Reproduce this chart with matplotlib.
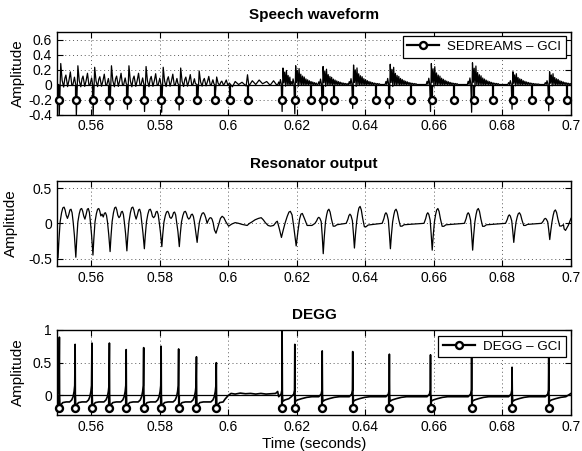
import numpy as np
import matplotlib
matplotlib.use("Agg")
import matplotlib.pyplot as plt
from matplotlib.lines import Line2D
from matplotlib.legend_handler import HandlerLine2D

plt.rcParams['font.family'] = ['Liberation Sans', 'DejaVu Sans']

# ---------------------------------------------------------------- GCI instants (s)
sedreams_gci = [0.5505, 0.5555, 0.5604, 0.5653, 0.5704, 0.5754, 0.5804, 0.5855, 0.5909, 0.5960,
                0.6006, 0.6056, 0.6157, 0.6194, 0.6242, 0.6276, 0.6307, 0.6363, 0.6431, 0.6470,
                0.6534, 0.6595, 0.6658, 0.6716, 0.6773, 0.6830, 0.6886, 0.6936, 0.6989]
degg_gci = [0.5507, 0.5553, 0.5602, 0.5653, 0.5702, 0.5753, 0.5804, 0.5855, 0.5907, 0.5965,
            0.6157, 0.6194, 0.6274, 0.6363, 0.6470, 0.6590, 0.6710, 0.6828, 0.6935]
degg_peak = [0.89, 0.78, 0.80, 0.80, 0.70, 0.73, 0.75, 0.71, 0.59, 0.50,
             1.00, 0.78, 0.68, 0.67, 0.63, 0.62, 0.59, 0.43, 0.59]

# ---------------------------------------------------------------- speech waveform
# first voiced stretch: one excitation per period
sp1_times = sedreams_gci[:10]
sp1_pos = [0.28, 0.25, 0.23, 0.25, 0.25, 0.24, 0.23, 0.22, 0.18, 0.10]
sp1_neg = [-0.45, -0.42, -0.42, -0.34, -0.33, -0.36, -0.37, -0.34, -0.26, -0.15]
sp1_shape_ms = [0.0, 0.15, 0.6, 1.0, 1.45, 1.8, 2.1, 2.6, 3.0, 3.4, 3.8, 4.1, 4.6, 4.9]
sp1_shape_val = [0.0, None, 1.0, 0.2, -0.12, 0.3, 0.45, -0.1, 0.2, 0.6, 0.0, -0.05, 0.35, 0.05]

# low-level stretch between the two voiced parts
sp_uv_t = [0.6003, 0.6012, 0.6020, 0.6030, 0.6040, 0.6052, 0.6056, 0.6060, 0.6070, 0.6080,
           0.6090, 0.6100, 0.6112, 0.6122, 0.6132, 0.6140]
sp_uv_v = [0.02, -0.03, 0.04, 0.0, 0.03, -0.02, 0.13, -0.02, 0.05, 0.0,
           0.06, 0.01, 0.04, -0.01, 0.05, 0.0]

# second voiced stretch: bursts with a ringing tail
sp2_times = degg_gci[10:]
sp2_pos = [0.22, 0.25, 0.24, 0.26, 0.27, 0.28, 0.29, 0.17, 0.17]
sp2_neg = [-0.36, -0.39, -0.35, -0.32, -0.32, -0.36, -0.37, -0.33, -0.35]
sp2_pre = [0.0, 0.15, 0.0, 0.3, 0.05]
sp2_ring = [None, 1.0, 0.1, 0.75, -0.1, 0.85, 0.0, 0.55, -0.05, 0.45, 0.0, 0.4, -0.05, 0.3,
            0.0, 0.25, -0.03, 0.2, 0.0, 0.16, -0.02, 0.13, 0.0, 0.1, -0.02, 0.08, 0.0, 0.06,
            -0.01, 0.05, 0.0, 0.04, 0.0]
SP2_STEP_MS = 0.25

# ---------------------------------------------------------------- resonator output
# first voiced stretch: per-period dip, first hump, middle valley, second hump
res1_times = [0.5503, 0.5555, 0.5605, 0.5655, 0.5704, 0.5755, 0.5806, 0.5857, 0.5909, 0.5964]
res1_dip = [-0.49, -0.48, -0.45, -0.40, -0.39, -0.36, -0.33, -0.33, -0.27]
res1_p1 = [0.23, 0.21, 0.21, 0.23, 0.23, 0.20, 0.17, 0.17, 0.15]
res1_md = [0.07, 0.06, 0.13, 0.08, 0.06, 0.08, 0.07, 0.06, 0.0]
res1_p2 = [0.20, 0.21, 0.15, 0.17, 0.20, 0.17, 0.16, 0.13, 0.08]
res1_shape = [(0.00, 'dip', 1.0), (0.05, 'dip', 0.5), (0.12, 'p1', 0.1), (0.20, 'p1', 0.65),
              (0.27, 'p1', 0.95), (0.34, 'p1', 1.0), (0.40, 'p1', 0.82), (0.46, 'p1', 0.5),
              (0.53, 'md', 1.0), (0.60, 'p2', 0.6), (0.67, 'p2', 0.95), (0.73, 'p2', 1.0),
              (0.79, 'p2', 0.75), (0.85, 'p2', 0.1), (0.92, 'dip', 0.35)]

# stretch between the voiced parts and the first irregular periods
res2_t = [0.5964, 0.5971, 0.5977, 0.5982, 0.5987, 0.5993, 0.6001, 0.6010, 0.6020, 0.6030,
          0.6040, 0.6055, 0.6062, 0.6069, 0.6078, 0.6088, 0.6096, 0.6102, 0.6108, 0.6116,
          0.6123, 0.6132, 0.6140, 0.6143, 0.6149, 0.6155, 0.6160, 0.6166, 0.6172, 0.6177,
          0.6181, 0.6186, 0.6191, 0.6198, 0.6203, 0.6208, 0.6212, 0.6216, 0.6222, 0.6230,
          0.6244, 0.6250]
res2_v = [-0.14, -0.03, 0.07, 0.10, 0.08, 0.02, -0.04, -0.01, 0.01, 0.0,
          -0.015, -0.03, 0.0, 0.02, 0.05, 0.07, 0.08, 0.05, 0.01, -0.03,
          -0.04, -0.03, 0.02, 0.03, -0.08, -0.20, -0.10, 0.01, 0.10, 0.16,
          0.17, 0.12, -0.05, -0.32, -0.12, 0.06, 0.13, 0.14, 0.07, -0.03,
          -0.03, -0.01]

# second voiced stretch: isolated events (pre-hump, dip, main hump)
res3_times = [0.6277, 0.6368, 0.6473, 0.6595, 0.6713, 0.6833, 0.6938]
res3_dip = [-0.43, -0.35, -0.36, -0.38, -0.38, -0.27, -0.23]
res3_peak = [0.20, 0.24, 0.20, 0.21, 0.21, 0.15, 0.19]
res3_pre = [0.085, 0.13, 0.15, 0.15, 0.15, 0.12, 0.07]
res3_shape = [(-2.4, 'Q', 0.0), (-1.9, 'Q', 0.45), (-1.6, 'Q', 0.85), (-1.3, 'Q', 1.0),
              (-1.0, 'Q', 0.85), (-0.6, 'Q', 0.3), (-0.3, 'D', 0.4), (0.0, 'D', 1.0),
              (0.3, 'D', 0.45), (0.65, 'P', 0.1), (1.0, 'P', 0.6), (1.3, 'P', 0.9),
              (1.65, 'P', 1.0), (2.0, 'P', 0.8), (2.4, 'P', 0.3), (2.9, 'P', -0.2),
              (3.4, 'P', -0.2), (4.0, 'P', -0.1)]
res_end_t = [0.6980, 0.6984, 0.6992, 0.7000]
res_end_v = [-0.08, -0.10, -0.03, 0.07]

# ---------------------------------------------------------------- DEGG
dg1_shape_ms = [-1.6, -1.0, -0.6, -0.3, -0.12, 0.0, 0.06, 0.15, 0.5, 1.0, 2.0, 3.0]
dg1_shape_val = [-0.10, -0.07, -0.02, 0.06, 0.15, None, 0.0, -0.17, -0.14, -0.11, -0.10, -0.10]
dg_uv_t = [0.5990, 0.6000, 0.6008, 0.6020, 0.6035, 0.6050, 0.6065, 0.6080, 0.6095, 0.6110,
           0.6125, 0.6138, 0.6144]
dg_uv_v = [-0.06, 0.0, 0.03, 0.02, 0.035, 0.025, 0.03, 0.02, 0.03, 0.02, 0.025, 0.03, 0.06]
dg2_shape_ms = [-1.0, -0.3, -0.08, 0.0, 0.08, 0.2, 0.8, 2.0, 3.5, 5.0]
dg2_shape_val = [-0.02, 0.02, 0.08, None, 0.0, -0.09, -0.07, -0.05, -0.03, -0.02]
dg_end_t = [0.7000]
dg_end_v = [0.03]

# ---------------------------------------------------------------- axis text
x_ticks = [0.56, 0.58, 0.60, 0.62, 0.64, 0.66, 0.68, 0.70]
x_ticklabels = ['0.56', '0.58', '0.6', '0.62', '0.64', '0.66', '0.68', '0.7']
titles = ['Speech waveform', 'Resonator output', 'DEGG']


def place_cycles(times, shape_ms, shape_val, special, scale, stop_last):
    """Lay a per-period shape at each instant, cut where the next one starts."""
    ts, vs = [], []
    starts = [t + shape_ms[0] * 1e-3 for t in times]
    for i, t0 in enumerate(times):
        stop = starts[i + 1] if i + 1 < len(times) else stop_last
        for dt, v in zip(shape_ms, shape_val):
            t = t0 + dt * 1e-3
            if t >= stop:
                break
            ts.append(t)
            if v is None:
                vs.append(special[i])
            else:
                vs.append(v * scale[i] if scale is not None else v)
    return ts, vs


def place_events(times, shape, levels, stop_last):
    """Shape entries are (offset ms, level key, factor); levels maps key -> per-event list."""
    ts, vs = [], []
    starts = [t + shape[0][0] * 1e-3 for t in times]
    for i, t0 in enumerate(times):
        stop = starts[i + 1] if i + 1 < len(times) else stop_last
        for dt, key, fac in shape:
            t = t0 + dt * 1e-3
            if t >= stop:
                break
            ts.append(t)
            vs.append(fac * levels[key][i])
    return ts, vs


# speech
s1_t, s1_v = place_cycles(sp1_times, sp1_shape_ms, sp1_shape_val, sp1_neg, sp1_pos, sp_uv_t[0])
sp2_ms = [(-len(sp2_pre) + k) * SP2_STEP_MS for k in range(len(sp2_pre) + len(sp2_ring))]
s2_t, s2_v = place_cycles(sp2_times, sp2_ms, sp2_pre + sp2_ring, sp2_neg, sp2_pos, 0.7001)
speech_t = [0.5500] + s1_t + sp_uv_t + s2_t
speech_v = [0.0] + s1_v + sp_uv_v + s2_v

# resonator
res_t, res_v = [0.5500], [-0.10]
for i in range(len(res1_dip)):
    t0, t1 = res1_times[i], res1_times[i + 1]
    lv = {'dip': res1_dip[i], 'p1': res1_p1[i], 'md': res1_md[i], 'p2': res1_p2[i]}
    for ph, key, fac in res1_shape:
        res_t.append(t0 + ph * (t1 - t0))
        res_v.append(fac * lv[key])
r3_t, r3_v = place_events(res3_times, res3_shape,
                          {'D': res3_dip, 'P': res3_peak, 'Q': res3_pre}, res_end_t[0])
res_t += res2_t + r3_t + res_end_t
res_v += res2_v + r3_v + res_end_v

# DEGG
d1_t, d1_v = place_cycles(degg_gci[:10], dg1_shape_ms, dg1_shape_val, degg_peak[:10], None, dg_uv_t[0])
d2_t, d2_v = place_cycles(degg_gci[10:], dg2_shape_ms, dg2_shape_val, degg_peak[10:], None, 0.6999)
degg_t = d1_t + dg_uv_t + d2_t + dg_end_t
degg_v = d1_v + dg_uv_v + d2_v + dg_end_v


class HandlerEndMarker(HandlerLine2D):
    """Legend entry with the marker at the right end of the line."""
    def get_xdata(self, legend, xdescent, ydescent, width, height, fontsize):
        xdata = np.array([-xdescent, -xdescent + width])
        return xdata, np.array([-xdescent + width])


def style_axes(ax, ylim, yticks, yticklabels, title, title_pad, ylab_x):
    ax.set_xlim(0.55, 0.70)
    ax.set_ylim(*ylim)
    ax.set_xticks(x_ticks)
    ax.set_xticklabels(x_ticklabels)
    ax.set_yticks(yticks)
    ax.set_yticklabels(yticklabels)
    ax.tick_params(direction='in', top=True, right=True, length=4, width=0.8,
                   labelsize=10, pad=3.5)
    ax.grid(True, linestyle=(0, (1, 3)), color='0.35', linewidth=0.7)
    for sp in ax.spines.values():
        sp.set_linewidth(1.0)
    ax.set_title(title, fontsize=11, fontweight='bold', pad=title_pad)
    ax.set_ylabel('Amplitude', fontsize=11)
    ax.yaxis.set_label_coords(ylab_x, 0.5)


MARK = dict(marker='o', ms=5, mfc='white', mec='k', mew=1.7)


def draw_gci(ax, times, label, anchor):
    ax.axhline(0, color='k', lw=0.9, zorder=3)
    ax.vlines(times, -0.2, 0, colors='k', lw=1.6, zorder=4)
    ax.plot(times, [-0.2] * len(times), linestyle='none', zorder=5, clip_on=False, **MARK)
    h = Line2D([], [], color='k', lw=1.6, **MARK)
    leg = ax.legend([h], [label], loc='upper right', bbox_to_anchor=anchor,
                    borderaxespad=0, fontsize=9.6, handlelength=2.4, handletextpad=0.6,
                    borderpad=0.35, fancybox=False, framealpha=1,
                    handler_map={Line2D: HandlerEndMarker()})
    leg.get_frame().set_edgecolor('k')
    leg.get_frame().set_linewidth(0.9)
    leg.set_zorder(10)


fig = plt.figure(figsize=(5.82, 4.51), dpi=100)
L, W = 0.0979, 0.8832
ax1 = fig.add_axes([L, 0.7461, W, 0.1829])
ax2 = fig.add_axes([L, 0.4109, W, 0.1878])
ax3 = fig.add_axes([L, 0.0798, W, 0.1885])

# speech waveform
ax1.plot(speech_t, speech_v, color='k', lw=0.9, zorder=2)
draw_gci(ax1, sedreams_gci, 'SEDREAMS \u2013 GCI', (0.990, 0.9515))
style_axes(ax1, (-0.4, 0.7), [-0.4, -0.2, 0, 0.2, 0.4, 0.6],
           ['-0.4', '-0.2', '0', '0.2', '0.4', '0.6'], titles[0], 9.5, -0.062)

# resonator output
ax2.plot(res_t, res_v, color='k', lw=0.9, zorder=2)
style_axes(ax2, (-0.6, 0.6), [-0.5, 0, 0.5], ['-0.5', '0', '0.5'], titles[1], 9, -0.075)

# DEGG
ax3.plot(degg_t, degg_v, color='k', lw=1.2, zorder=2)
draw_gci(ax3, degg_gci, 'DEGG \u2013 GCI', (0.990, 0.933))
style_axes(ax3, (-0.3, 1.0), [0, 0.5, 1], ['0', '0.5', '1'], titles[2], 7.7, -0.062)
ax3.set_xlabel('Time (seconds)', fontsize=11, labelpad=2)

fig.savefig('out.png', dpi=100)
